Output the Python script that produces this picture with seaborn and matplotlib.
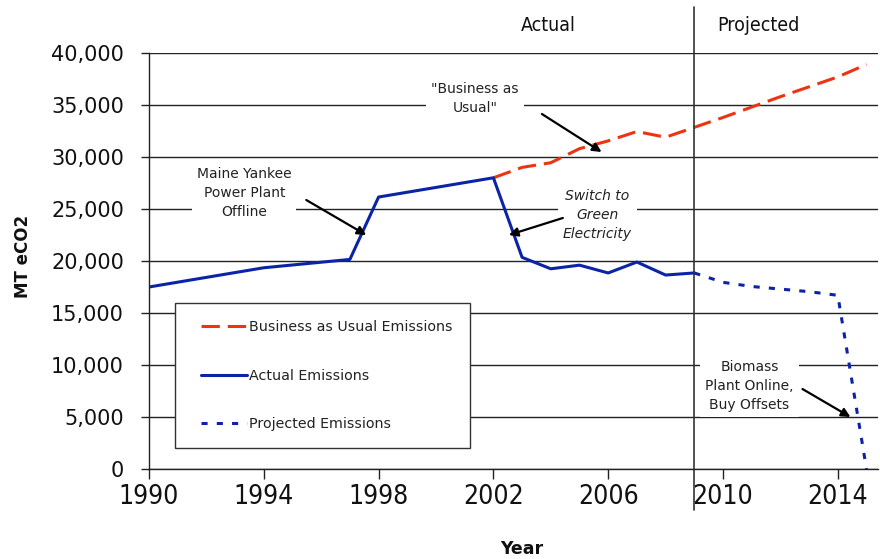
import seaborn as sns
import matplotlib.pyplot as plt
from matplotlib.ticker import FuncFormatter
from matplotlib.legend_handler import HandlerLine2D

# values (MT eCO2)
actual_years = [1990, 1994, 1997, 1998, 2002, 2003, 2004, 2005, 2006, 2007, 2008, 2009]
actual_values = [17500, 19350, 20150, 26150, 28000, 20350, 19250, 19600, 18850, 19900, 18650, 18850]

bau_years = [2002, 2003, 2004, 2005, 2006, 2007, 2008, 2009, 2010, 2011, 2012, 2013, 2014, 2015]
bau_values = [28000, 29000, 29450, 30800, 31550, 32450, 31900, 32850, 33800, 34800, 35800, 36750, 37700, 38900]

proj_years = [2009, 2010, 2011, 2012, 2013, 2014, 2015]
proj_values = [18850, 17950, 17550, 17300, 17050, 16700, 0]

x_ticks = [1990, 1994, 1998, 2002, 2006, 2010, 2014]
y_ticks = [0, 5000, 10000, 15000, 20000, 25000, 30000, 35000, 40000]

RED = "#EE3311"
BLUE = "#0B24A6"
INK = "#222222"

sns.set_theme(style="white")
plt.rcParams["font.family"] = ["DejaVu Sans"]

fig = plt.figure(figsize=(8.8, 5.59), dpi=100)
ax = fig.add_axes([0.1693, 0.161, 0.8284, 0.7442])

sns.lineplot(x=bau_years, y=bau_values, ax=ax, color=RED, linewidth=2.2,
             linestyle=(0, (6, 2.6)), label="Business as Usual Emissions")
sns.lineplot(x=actual_years, y=actual_values, ax=ax, color=BLUE, linewidth=2.2,
             label="Actual Emissions")
sns.lineplot(x=proj_years, y=proj_values, ax=ax, color=BLUE, linewidth=2.2,
             linestyle=(0, (2, 3)), label="Projected Emissions")

ax.set_xlim(1990, 2015.4)
ax.set_ylim(0, 40000)
ax.set_xticks(x_ticks)
ax.set_yticks(y_ticks)
ax.yaxis.set_major_formatter(FuncFormatter(lambda v, p: f"{v:,.0f}"))
ax.yaxis.grid(True, color=INK, linewidth=1)
ax.xaxis.grid(False)
ax.set_axisbelow(True)

for s in ["top", "right"]:
    ax.spines[s].set_visible(False)
for s in ["left", "bottom"]:
    ax.spines[s].set_color(INK)
    ax.spines[s].set_linewidth(1)

ax.tick_params(axis="y", direction="out", length=6, width=1, color=INK,
               pad=12, labelsize=15, labelcolor="#111111", left=True)
ax.tick_params(axis="x", direction="out", length=7, width=1, color=INK,
               pad=4, labelsize=19, labelcolor="#111111", bottom=True)
for lab in ax.get_xticklabels():
    lab.set_fontstretch("condensed")

ax.set_xlabel("Year", fontsize=12.5, fontweight="bold", color="#111111")
ax.set_ylabel("MT eCO2", fontsize=12, fontweight="bold", color="#111111")
ax.xaxis.set_label_coords(0.512, -0.171)
ax.yaxis.set_label_coords(-0.16, 0.51)

# divider between actual and projected
ax.axvline(2009, ymin=-0.099, ymax=1.111, clip_on=False, color="#333333", linewidth=1.2)
ax.text(2003.93, 1.067, "Actual", transform=ax.get_xaxis_transform(),
        ha="center", va="center", fontsize=14, fontstretch="condensed", color="#111111")
ax.text(2011.23, 1.067, "Projected", transform=ax.get_xaxis_transform(),
        ha="center", va="center", fontsize=14, fontstretch="condensed", color="#111111")

# callouts
box = dict(boxstyle="square,pad=0.35", facecolor="white", edgecolor="none")
arrow = dict(arrowstyle="-|>", color="black", lw=1.6, mutation_scale=13, shrinkA=0, shrinkB=0)
notes = [
    ("Maine Yankee\nPower Plant\nOffline", (1993.32, 26540), (1995.48, 25865), (1997.57, 22500), "normal"),
    ("\"Business as\nUsual\"", (2001.36, 35670), (2003.69, 34135), (2005.77, 30480), "normal"),
    ("Switch to\nGreen\nElectricity", (2005.63, 24420), (2004.42, 24135), (2002.54, 22500), "italic"),
    ("Biomass\nPlant Online,\nBuy Offsets", (2010.92, 7980), (2012.77, 7690), (2014.44, 5000), "normal"),
]
for txt, pos, start, end, style in notes:
    ax.text(pos[0], pos[1], txt, ha="center", va="center", multialignment="center",
            fontsize=10, fontstyle=style, linespacing=1.45, color=INK, bbox=box, zorder=3)
    ax.annotate("", xy=end, xytext=start, arrowprops=arrow, zorder=4)

handles, labels = ax.get_legend_handles_labels()
leg = ax.legend(handles, labels, loc="upper left", bbox_to_anchor=(0.0357, 0.399), borderaxespad=0,
                frameon=True, fancybox=False, framealpha=1, edgecolor="#333333",
                fontsize=10.3, handlelength=3.8, handletextpad=0.2,
                labelspacing=2.4, borderpad=1.2,
                handler_map={h: HandlerLine2D(xpad=0.6) for h in handles})
leg.get_frame().set_linewidth(1)
for t in leg.get_texts():
    t.set_color(INK)

fig.savefig("out.png", dpi=100)
